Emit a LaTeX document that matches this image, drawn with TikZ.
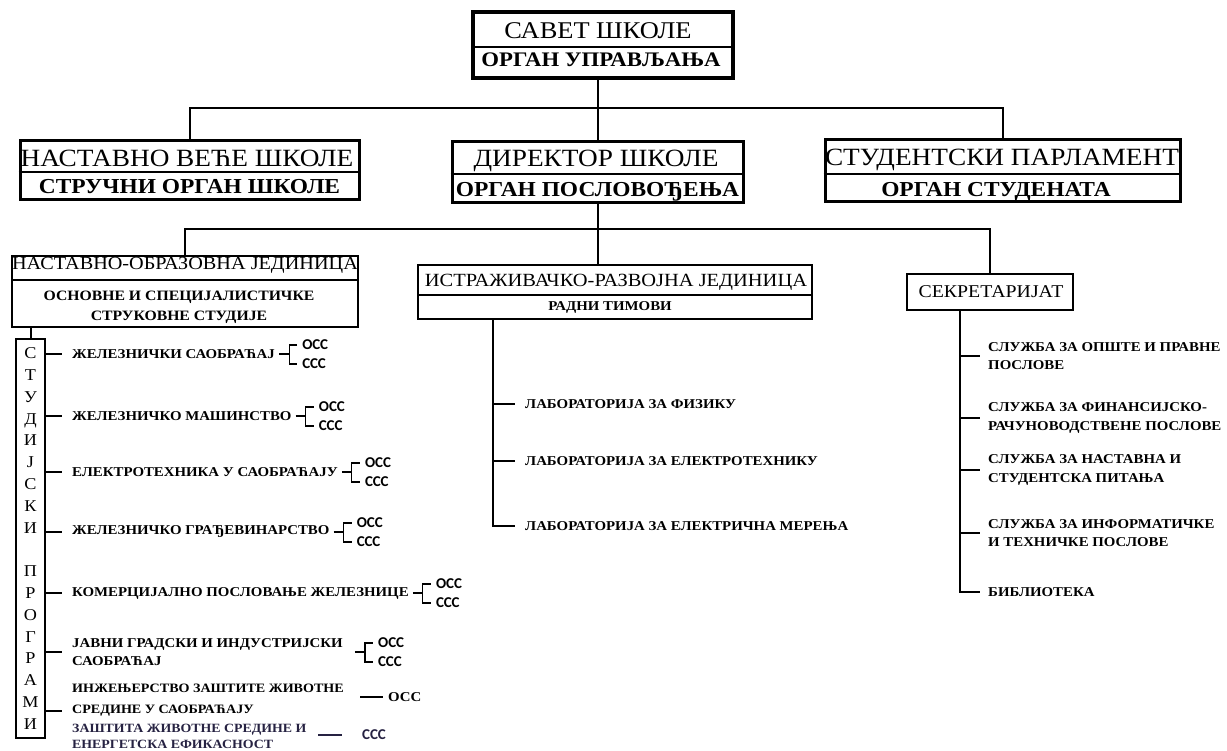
\documentclass[tikz,border=0pt]{standalone}
\usepackage{fontspec}
\setmainfont[FakeStretch=1.1]{Liberation Serif}
\newfontfamily\degfont{Carlito}
\definecolor{inknavy}{RGB}{38,34,66}

% OSS / SSS bracket after a programme node
\newcommand{\ossbracket}[2][4pt]{%
    \coordinate (#2br) at ([xshift=#1+10pt]#2.east);
    \draw[thinconn] ([xshift=#1]#2.east) -- (#2br);
    \draw[thinconn] (#2br) ++(8,-9) -- ++(-8,0) -- ++(0,19) -- ++(8,0);
    \node[degtxt] (#2oss) at ([shift={(13,-9)}]#2br) {ОСС};
    \node[degtxt] (#2sss) at ([shift={(13,10)}]#2br) {ССС};
}

\begin{document}
\begin{tikzpicture}[
    x=1pt, y=-1pt,
    orgbox/.style={rectangle, draw, fill=white, inner sep=0pt},
    divider/.style={line width=1.2pt},
    conn/.style={line width=2pt},
    thinconn/.style={line width=1.1pt},
    headtxt/.style={anchor=base, inner sep=0pt, font=\fontsize{#1}{#1}\selectfont},
    subtxt/.style={anchor=base, inner sep=0pt, font=\fontsize{#1}{#1}\selectfont\bfseries},
    itemtxt/.style={anchor=west, inner sep=0pt, align=left, font=\fontsize{13.5}{18.5}\selectfont\bfseries},
    degtxt/.style={anchor=west, inner sep=0pt, font=\fontsize{15}{15}\selectfont\degfont\bfseries}
]
    \fill[white] (0,0) rectangle (1227,751);
    \useasboundingbox (0,0) rectangle (1227,751);

    % Savet skole
    \node[orgbox, line width=4pt, minimum width=260, minimum height=66] (savet) at (603,45) {};
    \node[headtxt=24] (savetA) at (598,39) {САВЕТ ШКОЛЕ};
    \node[subtxt=20.7] (savetB) at (601,67) {ОРГАН УПРАВЉАЊА};
    \draw[divider] (savet.west |- 0,47) -- (savet.east |- 0,47);

    % second row
    \node[orgbox, line width=3pt, minimum width=339, minimum height=59] (vece) at (189.5,170.5) {};
    \node[headtxt=24.8] (veceA) at (187,167) {НАСТАВНО ВЕЋЕ ШКОЛЕ};
    \node[subtxt=21.3] (veceB) at (189.5,194) {СТРУЧНИ ОРГАН ШКОЛЕ};
    \draw[divider] (vece.west |- 0,172) -- (vece.east |- 0,172);

    \node[orgbox, line width=3pt, minimum width=291, minimum height=61] (direktor) at (597.5,172.5) {};
    \node[headtxt=24.8] (direktorA) at (596,167) {ДИРЕКТОР ШКОЛЕ};
    \node[subtxt=21.3] (direktorB) at (597.5,197) {ОРГАН ПОСЛОВОЂЕЊА};
    \draw[divider] (direktor.west |- 0,174) -- (direktor.east |- 0,174);

    \node[orgbox, line width=3pt, minimum width=355, minimum height=62] (student) at (1002.5,171) {};
    \node[headtxt=24.8] (studentA) at (1002,166) {СТУДЕНТСКИ ПАРЛАМЕНТ};
    \node[subtxt=21.3] (studentB) at (996,197) {ОРГАН СТУДЕНАТА};
    \draw[divider] (student.west |- 0,174) -- (student.east |- 0,174);

    \draw[conn] (direktor.north |- savet.south) -- (direktor.north);
    \draw[conn] (vece.north) |- (direktor.north |- 0,108) -| (student.north);

    % third row
    \node[orgbox, line width=2pt, minimum width=346, minimum height=71] (nastavna) at (185,291.5) {};
    \node[headtxt=18.4] (nastavnaA) at (185,270) {НАСТАВНО-ОБРАЗОВНА ЈЕДИНИЦА};
    \node[align=center, inner sep=0pt, font=\fontsize{14.3}{20}\selectfont\bfseries] (nastavnaB) at (179,307) {ОСНОВНЕ И СПЕЦИЈАЛИСТИЧКЕ\\СТРУКОВНЕ СТУДИЈЕ};
    \draw[divider] (nastavna.west |- 0,280) -- (nastavna.east |- 0,280);

    \node[orgbox, line width=2pt, minimum width=394, minimum height=54] (istraz) at (615,292) {};
    \node[headtxt=18.6] (istrazA) at (616,287) {ИСТРАЖИВАЧКО-РАЗВОЈНА ЈЕДИНИЦА};
    \node[subtxt=13.5] (istrazB) at (610,311) {РАДНИ ТИМОВИ};
    \draw[divider] (istraz.west |- 0,295) -- (istraz.east |- 0,295);

    \node[orgbox, line width=2pt, minimum width=166, minimum height=36] (sekret) at (990,292) {};
    \node[headtxt=18] (sekretA) at (991,298) {СЕКРЕТАРИЈАТ};

    \draw[conn] (direktor.south) -- (direktor.south |- istraz.north);
    \draw[conn] (nastavna.north) |- (direktor.south |- 0,229) -| (sekret.north);

    % studijski programi
    \node[orgbox, line width=2.5pt, minimum width=29, minimum height=399, align=center,
          font=\fontsize{16.5}{21.8}\selectfont] (studije) at (30.5,538.5)
          {С\\Т\\У\\Д\\И\\Ј\\С\\К\\И\\[21.8pt]П\\Р\\О\\Г\\Р\\А\\М\\И};
    \draw[conn] (studije.north |- nastavna.south) -- (studije.north);

    \node[itemtxt] (progA) at (72,354) {ЖЕЛЕЗНИЧКИ САОБРАЋАЈ};
    \node[itemtxt] (progB) at (72,416) {ЖЕЛЕЗНИЧКО МАШИНСТВО};
    \node[itemtxt] (progC) at (72,472) {ЕЛЕКТРОТЕХНИКА У САОБРАЋАЈУ};
    \node[itemtxt] (progD) at (72,532) {ЖЕЛЕЗНИЧКО ГРАЂЕВИНАРСТВО};
    \node[itemtxt] (progE) at (72,593) {КОМЕРЦИЈАЛНО ПОСЛОВАЊЕ ЖЕЛЕЗНИЦЕ};
    \node[itemtxt] (progF) at (72,652) {ЈАВНИ ГРАДСКИ И ИНДУСТРИЈСКИ\\САОБРАЋАЈ};
    \node[itemtxt, font=\fontsize{12.8}{16}\selectfont\bfseries] (progG) at (72,688) {ИНЖЕЊЕРСТВО ЗАШТИТЕ ЖИВОТНЕ};
    \node[itemtxt, font=\fontsize{12.8}{16}\selectfont\bfseries] (progGb) at (72,711) {СРЕДИНЕ У САОБРАЋАЈУ};
    \node[itemtxt, text=inknavy, font=\fontsize{12.6}{16}\selectfont\bfseries] (progH) at (72,736) {ЗАШТИТА ЖИВОТНЕ СРЕДИНЕ И\\ЕНЕРГЕТСКА ЕФИКАСНОСТ};

    \draw[conn] (studije.east |- progA.west) -- ([xshift=-10pt]progA.west);
    \draw[conn] (studije.east |- progB.west) -- ([xshift=-10pt]progB.west);
    \draw[conn] (studije.east |- progC.west) -- ([xshift=-10pt]progC.west);
    \draw[conn] (studije.east |- progD.west) -- ([xshift=-10pt]progD.west);
    \draw[conn] (studije.east |- progE.west) -- ([xshift=-10pt]progE.west);
    \draw[conn] (studije.east |- progF.west) -- ([xshift=-10pt]progF.west);
    \draw[conn] (studije.east |- progGb.west) -- ([xshift=-10pt]progGb.west);

    \ossbracket{progA}
    \ossbracket{progB}
    \ossbracket{progC}
    \ossbracket{progD}
    \ossbracket{progE}
    \ossbracket[12pt]{progF}

    \node[itemtxt] (progGoss) at (388,697) {ОСС};
    \draw[thinconn] ([xshift=-28pt]progGoss.west) -- ([xshift=-5pt]progGoss.west);
    \node[degtxt, text=inknavy] (progHsss) at (362,735) {ССС};
    \draw[thinconn, inknavy] ([xshift=-44pt]progHsss.west) -- ([xshift=-20pt]progHsss.west);

    % laboratorije
    \coordinate (labspine) at ([xshift=-122pt]istraz.south);
    \node[itemtxt] (labA) at (525,404) {ЛАБОРАТОРИЈА ЗА ФИЗИКУ};
    \node[itemtxt] (labB) at (525,461) {ЛАБОРАТОРИЈА ЗА ЕЛЕКТРОТЕХНИКУ};
    \node[itemtxt] (labC) at (525,526) {ЛАБОРАТОРИЈА ЗА ЕЛЕКТРИЧНА МЕРЕЊА};
    \draw[conn] (labspine |- labA.west) -- ([xshift=-10pt]labA.west);
    \draw[conn] (labspine |- labB.west) -- ([xshift=-10pt]labB.west);
    \draw[conn] (labspine) |- ([xshift=-10pt]labC.west);

    % sluzbe sekretarijata
    \coordinate (sekspine) at ([xshift=-30pt]sekret.south);
    \node[itemtxt] (slA) at (988,356) {СЛУЖБА ЗА ОПШТЕ И ПРАВНЕ\\ПОСЛОВЕ};
    \node[itemtxt] (slB) at (988,418) {СЛУЖБА ЗА ФИНАНСИЈСКО-\\РАЧУНОВОДСТВЕНЕ ПОСЛОВЕ};
    \node[itemtxt] (slC) at (988,470) {СЛУЖБА ЗА НАСТАВНА И\\СТУДЕНТСКА ПИТАЊА};
    \node[itemtxt] (slD) at (988,533) {СЛУЖБА ЗА ИНФОРМАТИЧКЕ\\И ТЕХНИЧКЕ ПОСЛОВЕ};
    \node[itemtxt] (slE) at (988,592) {БИБЛИОТЕКА};
    \draw[conn] (sekspine |- slA.west) -- ([xshift=-8pt]slA.west);
    \draw[conn] (sekspine |- slB.west) -- ([xshift=-8pt]slB.west);
    \draw[conn] (sekspine |- slC.west) -- ([xshift=-8pt]slC.west);
    \draw[conn] (sekspine |- slD.west) -- ([xshift=-8pt]slD.west);
    \draw[conn] (sekspine) |- ([xshift=-8pt]slE.west);
\end{tikzpicture}
\end{document}
